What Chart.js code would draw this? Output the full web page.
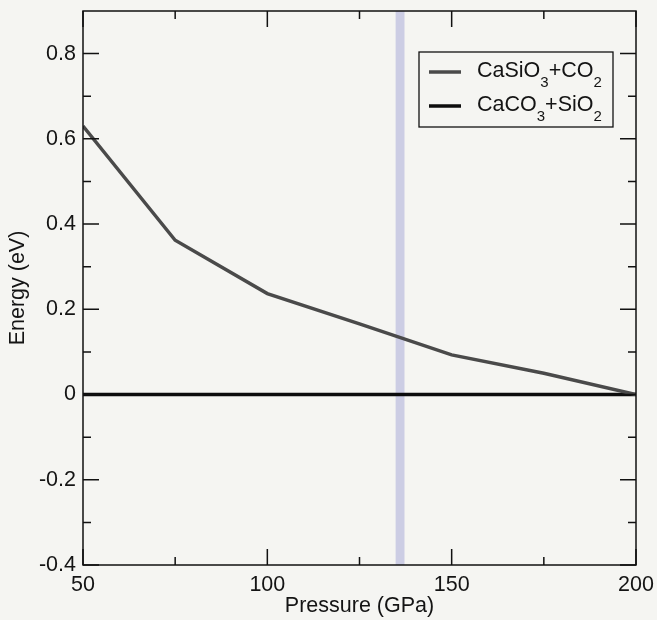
<!DOCTYPE html>
<html><head><meta charset="utf-8">
<script src="https://cdn.jsdelivr.net/npm/chart.js@4"></script>
<style>html,body{margin:0;padding:0;background:#f5f5f2;} #wrap{width:657px;height:620px;position:relative;}</style>
</head><body><div id="wrap"><canvas id="c" width="657" height="620"></canvas></div>
<script>
// ---- data ----
const pressures = [50, 75, 100, 125, 150, 175, 200];
const energyCaSiO3CO2 = [0.63, 0.362, 0.237, 0.166, 0.093, 0.05, 0.0];
const energyCaCO3SiO2 = [0, 0, 0, 0, 0, 0, 0];
const seriesLabels = ['CaSiO₃+CO₂', 'CaCO₃+SiO₂'];
const xMajorTicks = [50, 100, 150, 200];
const xTickLabels = ['50', '100', '150', '200'];
const xMinorTicks = [75, 125, 175];
const yMajorTicks = [-0.4, -0.2, 0, 0.2, 0.4, 0.6, 0.8];
const yTickLabels = ['-0.4', '-0.2', '0', '0.2', '0.4', '0.6', '0.8'];
const yMinorTicks = [-0.3, -0.1, 0.1, 0.3, 0.5, 0.7];
const bandPressure = [134.8, 137.2];
const xRange = [50, 200];
const yRange = [-0.4, 0.9];

const FONT = "'Liberation Sans', Arial, Helvetica, sans-serif";
const BG = '#f5f5f2';
const TXT = '#141414';

const toPts = (ys) => pressures.map((p, i) => ({x: p, y: ys[i]}));

const bgPlugin = {
  id: 'bg',
  beforeDraw(chart) {
    const c = chart.ctx; c.save(); c.fillStyle = BG; c.fillRect(0, 0, chart.width, chart.height); c.restore();
  }
};

const bandPlugin = {
  id: 'band',
  beforeDatasetsDraw(chart) {
    const {ctx, chartArea: a, scales: {x}} = chart;
    const x0 = x.getPixelForValue(bandPressure[0]), x1 = x.getPixelForValue(bandPressure[1]);
    ctx.save(); ctx.fillStyle = 'rgba(196,198,226,0.85)';
    ctx.fillRect(x0, a.top, x1 - x0, a.bottom - a.top); ctx.restore();
  }
};

const framePlugin = {
  id: 'frame',
  afterDatasetsDraw(chart) {
    const {ctx, chartArea: a, scales: {x, y}} = chart;
    ctx.save();
    ctx.strokeStyle = '#111'; ctx.lineWidth = 1.5;
    ctx.strokeRect(a.left, a.top, a.right - a.left, a.bottom - a.top);
    ctx.beginPath();
    const MAJ = 16, MIN = 8;
    const xt = (v, len) => { const px = x.getPixelForValue(v);
      ctx.moveTo(px, a.bottom); ctx.lineTo(px, a.bottom - len);
      ctx.moveTo(px, a.top); ctx.lineTo(px, a.top + len); };
    const yt = (v, len) => { const py = y.getPixelForValue(v);
      ctx.moveTo(a.left, py); ctx.lineTo(a.left + len, py);
      ctx.moveTo(a.right, py); ctx.lineTo(a.right - len, py); };
    xMajorTicks.forEach(v => xt(v, MAJ)); xMinorTicks.forEach(v => xt(v, MIN));
    yMajorTicks.forEach(v => yt(v, MAJ)); yMinorTicks.forEach(v => yt(v, MIN));
    ctx.stroke(); ctx.restore();
  }
};

function drawRich(ctx, text, x, yb, size) {
  const subs = '₀₁₂₃₄₅₆₇₈₉';
  let cx = x;
  for (const ch of text) {
    const k = subs.indexOf(ch);
    if (k >= 0) {
      ctx.font = `${Math.round(size * 0.68)}px ${FONT}`;
      ctx.fillText(String(k), cx, yb + 10);
      cx += ctx.measureText(String(k)).width;
    } else {
      ctx.font = `${size}px ${FONT}`;
      ctx.fillText(ch, cx, yb);
      cx += ctx.measureText(ch).width;
    }
  }
}

const legendPlugin = {
  id: 'customLegend',
  afterDraw(chart) {
    const {ctx, chartArea: a} = chart;
    const w = 194, h = 75;
    const left = a.right - 23 - w, top = a.top + 41;
    ctx.save();
    ctx.fillStyle = BG; ctx.fillRect(left, top, w, h);
    ctx.strokeStyle = '#111'; ctx.lineWidth = 1.3; ctx.strokeRect(left, top, w, h);
    chart.data.datasets.forEach((ds, i) => {
      const ry = top + 20 + i * 34;
      ctx.strokeStyle = ds.borderColor; ctx.lineWidth = ds.borderWidth;
      ctx.beginPath(); ctx.moveTo(left + 10, ry); ctx.lineTo(left + 42, ry); ctx.stroke();
      ctx.fillStyle = TXT; ctx.textBaseline = 'alphabetic'; ctx.textAlign = 'left';
      drawRich(ctx, ds.label, left + 58, ry + 5, 21.5);
    });
    ctx.restore();
  }
};

new Chart(document.getElementById('c'), {
  type: 'line',
  data: {
    datasets: [
      {label: seriesLabels[0], data: toPts(energyCaSiO3CO2), borderColor: '#4a4a4a', borderWidth: 3.5, pointRadius: 0, tension: 0},
      {label: seriesLabels[1], data: toPts(energyCaCO3SiO2), borderColor: '#0d0d0d', borderWidth: 3.5, pointRadius: 0, tension: 0}
    ]
  },
  options: {
    responsive: false,
    animation: false,
    layout: {padding: {top: 11, right: 21, left: 0, bottom: 0}},
    plugins: {legend: {display: false}, tooltip: {enabled: false}},
    scales: {
      x: {
        type: 'linear', min: xRange[0], max: xRange[1],
        afterBuildTicks: (s) => { s.ticks = xMajorTicks.map(v => ({value: v})); },
        afterFit: (s) => { s.height = 55; s.paddingLeft = 0; s.paddingRight = 0; },
        grid: {display: false, drawTicks: false},
        border: {display: false},
        ticks: {padding: 7, color: TXT, font: {family: FONT, size: 21.5}, maxRotation: 0,
          callback: (v) => xTickLabels[xMajorTicks.indexOf(v)]},
        title: {display: true, text: 'Pressure (GPa)', color: TXT, font: {family: FONT, size: 21.5}, padding: {top: 0, bottom: 1}}
      },
      y: {
        type: 'linear', min: yRange[0], max: yRange[1],
        afterBuildTicks: (s) => { s.ticks = yMajorTicks.map(v => ({value: v})); },
        afterFit: (s) => { s.width = 83; s.paddingTop = 0; s.paddingBottom = 0; },
        grid: {display: false, drawTicks: false},
        border: {display: false},
        ticks: {padding: 7, color: TXT, font: {family: FONT, size: 21.5},
          callback: (v) => yTickLabels[yMajorTicks.findIndex(t => Math.abs(t - v) < 1e-9)]},
        title: {display: true, text: 'Energy (eV)', color: TXT, font: {family: FONT, size: 21.5}, padding: {top: 5, bottom: 0}}
      }
    }
  },
  plugins: [bgPlugin, bandPlugin, framePlugin, legendPlugin]
});
</script></body></html>
